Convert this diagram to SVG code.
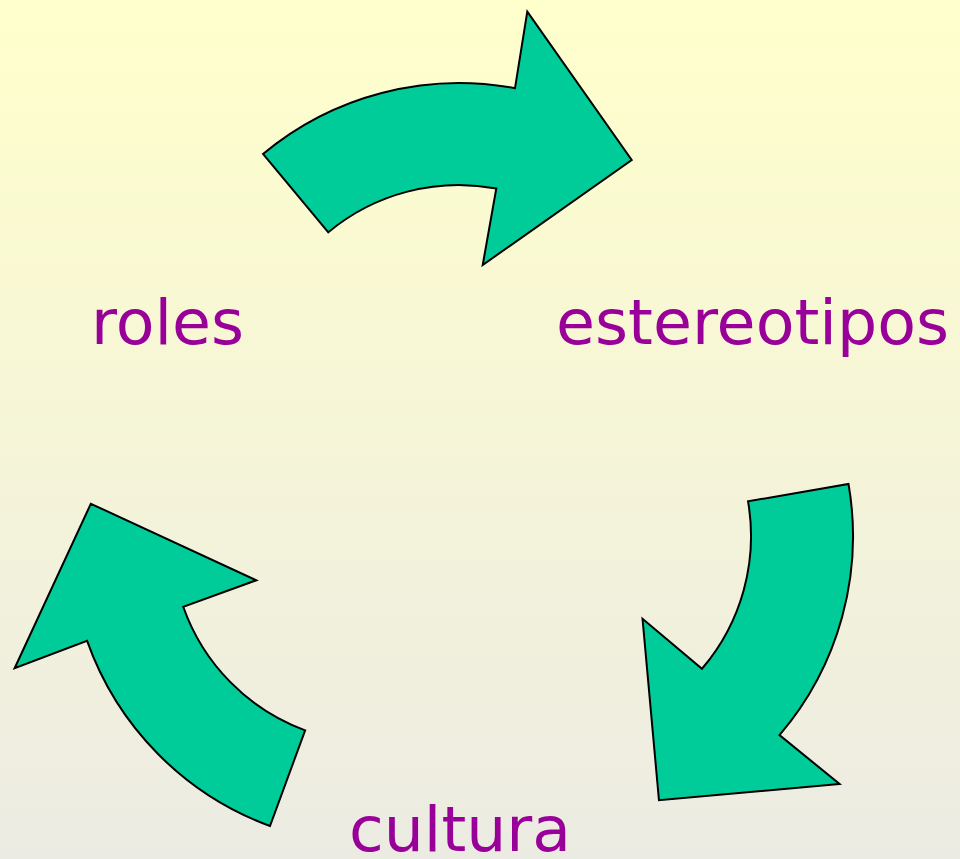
<svg xmlns="http://www.w3.org/2000/svg" xmlns:xlink="http://www.w3.org/1999/xlink" width="960" height="859" viewBox="0 0 960 859">
<style>
.arrow{fill:#00CC99;stroke:#000;stroke-width:2;stroke-linejoin:miter}
.lbl{font-family:"DejaVu Sans","Verdana",sans-serif;font-size:62px;fill:#990099}
</style>
<defs>
<linearGradient id="bg" x1="0" y1="0" x2="0" y2="1">
<stop offset="0" stop-color="#FFFFCC"/>
<stop offset="1" stop-color="#ECEBE3"/>
</linearGradient>
<path id="arr" d="M263,154 A306,306 0 0 1 515,88.2 L527.3,11.7 L631.7,160 L482.7,265 L496.3,188.5 A204,204 0 0 0 328.3,232.3 Z"/>
</defs>
<rect x="0" y="0" width="960" height="859" fill="url(#bg)"/>
<g id="connectors">
<use xlink:href="#arr" href="#arr" class="arrow"/>
<use xlink:href="#arr" href="#arr" class="arrow" transform="rotate(120 460.5 488)"/>
<use xlink:href="#arr" href="#arr" class="arrow" transform="rotate(240 460.5 488)"/>
</g>
<g id="roles"><text class="lbl" x="91" y="344" textLength="153" lengthAdjust="spacingAndGlyphs">roles</text></g>
<g id="estereotipos"><text class="lbl" x="556" y="344" textLength="393" lengthAdjust="spacingAndGlyphs">estereotipos</text></g>
<g id="cultura"><text class="lbl" x="349" y="851" textLength="222" lengthAdjust="spacingAndGlyphs">cultura</text></g>
</svg>
